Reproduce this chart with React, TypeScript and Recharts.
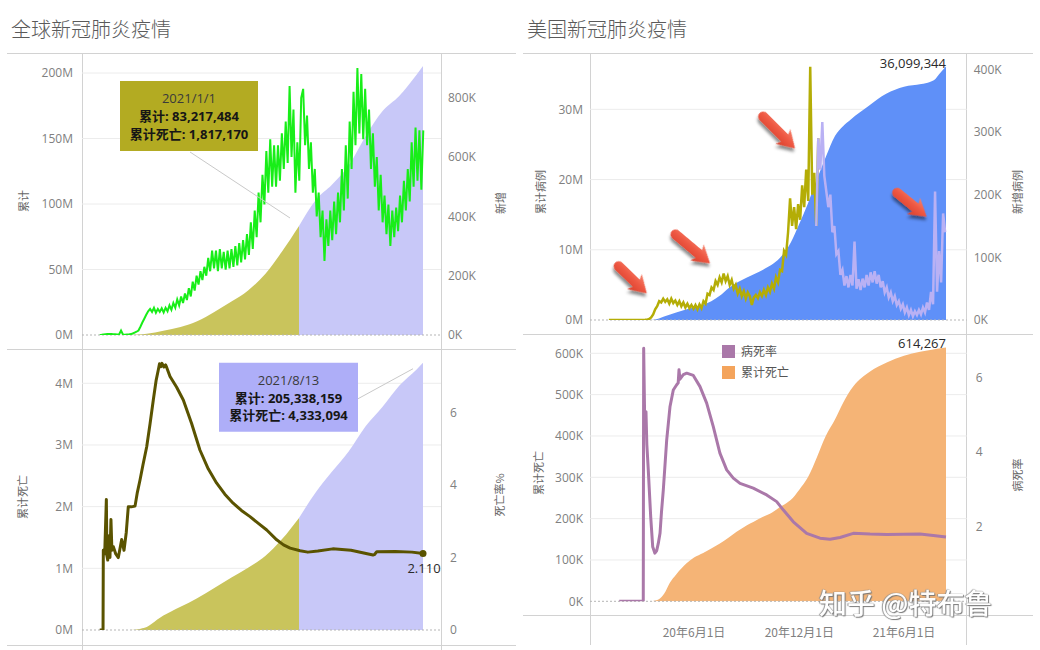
import React from 'react';
import {
  ComposedChart, Area, Line, XAxis, YAxis, CartesianGrid, ReferenceLine, ReferenceDot,
} from 'recharts';

// Days are counted from 2020/1/1 (day 0). 2021/1/1 = day 366, 2021/8/13 = day 590.
const splitDay = 366;
const endDay = 590;

// ---------------- 全球 ----------------
const globalCumDays = [6, 31, 60, 75, 91, 121, 152, 182, 213, 244, 274, 305, 335, 366, 397, 425, 456, 486, 517, 547, 578, 590];
const globalCumCasesM = [0, 0.012, 0.09, 0.3, 0.93, 3.3, 6.2, 10.5, 17.6, 25.5, 34.0, 46.5, 63.5, 83.2, 103.5, 114.5, 129.5, 151.5, 171, 182.5, 198.5, 205.3];

const globalNewFirstDay = 6;
const globalNewStepDays = 3.5;
const globalNewK = [
  0.3, 0.5, 1.5, 2.5, 3, 3.5, 3, 2.5, 2.5, 2,
  2, 15, 1.5, 1, 1.5, 2, 3, 5, 8, 11,
  15, 28, 42, 55, 68, 80, 88, 78, 92, 75,
  88, 78, 90, 76, 92, 80, 100, 85, 108, 92,
  120, 100, 130, 108, 140, 118, 158, 130, 180, 150,
  200, 170, 215, 185, 230, 200, 260, 215, 285, 225,
  285, 215, 290, 225, 280, 220, 285, 225, 290, 230,
  300, 235, 310, 245, 320, 255, 340, 270, 380, 290,
  420, 330, 480, 380, 540, 440, 620, 480, 660, 500,
  640, 500, 640, 520, 680, 560, 720, 580, 840, 600,
  760, 480, 650, 520, 800, 830, 640, 740, 560, 650,
  480, 560, 400, 480, 330, 420, 250, 390, 300, 420,
  320, 450, 340, 480, 380, 560, 420, 640, 460, 720,
  560, 820, 640, 900, 680, 880, 660, 830, 640, 760,
  560, 680, 500, 600, 420, 540, 380, 470, 340, 440,
  300, 420, 330, 430, 350, 470, 380, 520, 420, 560,
  450, 650, 500, 700, 520, 690, 490, 690,
];

const globalDeathDays = [6, 50, 70, 80, 91, 100, 110, 121, 135, 152, 182, 213, 244, 274, 305, 335, 366, 397, 425, 456, 486, 517, 547, 578, 590];
const globalDeathsM = [0, 0.002, 0.006, 0.02, 0.047, 0.1, 0.17, 0.234, 0.3, 0.375, 0.515, 0.68, 0.85, 1.01, 1.2, 1.47, 1.817, 2.24, 2.56, 2.9, 3.3, 3.62, 3.96, 4.22, 4.333];

const globalRateDays = [6, 12, 12.5, 15, 18, 19, 20.5, 23, 24.5, 26.3, 28, 30.6, 35, 39.6, 45.7, 49.9, 54, 57.6, 63, 69.8, 74, 78.8, 84, 90.9, 97, 102.8, 108, 111.8, 114, 116.5, 118.5, 122, 125, 127, 133, 145, 157, 172, 187, 202, 217, 232, 247, 262, 277.5, 292, 307.7, 325.7, 338, 350, 368, 382, 400, 427, 460, 485, 499.7, 502, 506.4, 540, 570, 590];
const globalRatePct = [0, 0, 2.2, 2.1, 3.6, 2.05, 1.93, 2.6, 2.0, 3.05, 2.2, 2.3, 2.1, 2.0, 2.5, 2.2, 2.7, 3.4, 3.4, 3.42, 3.8, 4.14, 4.55, 5.06, 5.7, 6.35, 6.9, 7.18, 7.35, 7.27, 7.36, 7.26, 7.32, 7.25, 7.0, 6.7, 6.35, 5.7, 4.97, 4.45, 4.06, 3.75, 3.5, 3.3, 3.13, 2.95, 2.76, 2.49, 2.35, 2.26, 2.19, 2.15, 2.18, 2.24, 2.2, 2.12, 2.07, 2.08, 2.16, 2.17, 2.15, 2.11];

const globalCalloutDays = [366, 590];
const globalCalloutDates = ['2021/1/1', '2021/8/13'];
const globalCalloutCases = [83217484, 205338159];
const globalCalloutDeaths = [1817170, 4333094];
const globalEndRateLabel = '2.110';

// ---------------- 美国 ----------------
const usCumDays = [4, 60, 74, 81, 88, 91, 100, 121, 152, 182, 196, 213, 244, 274, 305, 320, 335, 350, 366, 381, 397, 411, 425, 456, 486, 517, 547, 562, 570, 578, 590];
const usCumCasesM = [0, 0.0001, 0.004, 0.03, 0.14, 0.21, 0.5, 1.08, 1.8, 2.68, 3.4, 4.6, 6.05, 7.25, 9.2, 11.0, 13.7, 16.6, 20.1, 23.2, 26.2, 27.6, 28.6, 30.5, 32.2, 33.2, 33.6, 33.9, 34.2, 35.0, 36.099344];

const usNewFirstDay = 4;
const usNewStepDays = 3.5;
const usNewK = [
  0, 0, 0, 0, 0, 0, 0, 0, 0, 0,
  0, 0, 0, 0, 0, 0, 0, 0.1, 0.3, 0.6,
  1.5, 4, 9, 17, 22, 30, 28, 34, 29, 33,
  26, 34, 27, 31, 24, 30, 22, 28, 20, 26,
  19, 24, 18, 24, 17, 25, 19, 30, 26, 42,
  40, 52, 48, 62, 56, 68, 60, 74, 62, 70,
  56, 64, 50, 56, 42, 50, 38, 46, 34, 44,
  38, 24, 36, 40, 35, 44, 38, 48, 40, 52,
  45, 58, 50, 68, 60, 80, 78, 110, 104, 140,
  194, 150, 180, 145, 185, 160, 215, 180, 240, 190,
  404, 200, 235, 150, 290, 240, 316, 230, 205, 180,
  200, 140, 150, 105, 110, 72, 80, 55, 70, 52,
  72, 55, 125, 50, 65, 48, 66, 52, 72, 55,
  76, 60, 78, 58, 72, 52, 62, 44, 52, 36,
  44, 30, 38, 24, 30, 18, 25, 12, 20, 8,
  16, 6, 14, 8, 16, 9, 20, 12, 28, 16,
  45, 25, 205, 45, 110, 60, 170, 140,
];

const usDeathDays = [4, 60, 75, 85, 91, 100, 110, 121, 139, 152, 168, 182, 197, 213, 226, 244, 255, 274, 284, 305, 313, 320, 335, 350, 366, 381, 397, 411, 429, 458, 487, 517, 545, 570, 590];
const usDeathsK = [0, 0, 0.1, 2, 5, 18, 45, 65, 92, 106, 117, 128, 140, 155, 168, 184, 192, 206, 212, 231, 238, 245, 270, 300, 350, 400, 440, 480, 520, 556, 578, 594, 604, 610, 614.267];

const usRateDays = [22, 63.8, 64.5, 66.5, 68.5, 70, 72.5, 76.7, 80.2, 84, 87, 89.9, 92.9, 95.5, 98.6, 104.5, 110.3, 116, 121.9, 124.5, 125.9, 127.6, 133.4, 139.3, 150.8, 162.4, 174, 185.5, 197, 208.8, 220.3, 232, 255, 278.3, 295.7, 307, 324.6, 347.8, 371, 388.4, 405.8, 428.9, 458, 487, 544.8, 568, 590];
const usRatePct = [0, 0, 6.78, 4.6, 5.08, 4.2, 3.52, 2.27, 1.46, 1.29, 1.35, 1.55, 1.82, 2.4, 2.98, 4.32, 5.22, 5.66, 5.8, 5.85, 6.2, 5.95, 6.07, 6.11, 6.05, 5.75, 5.31, 4.68, 3.97, 3.52, 3.3, 3.16, 3.03, 2.85, 2.67, 2.45, 2.13, 1.82, 1.69, 1.66, 1.71, 1.82, 1.8, 1.79, 1.8, 1.76, 1.72];

const usEndCasesLabel = '36,099,344';
const usEndDeathsLabel = '614,267';

const usTickDays = [152, 335, 517];
const usTickLabels = ['20年6月1日', '20年12月1日', '21年6月1日'];

const usLegendNames = ['病死率', '累计死亡'];

// arrows (annotation targets, in day / 新增病例 K)
const usArrowDays = [69.8, 179.8, 327.5, 556.5];
const usArrowK = [42.6, 90.4, 273.8, 164.8];

// ---------------- styles ----------------
const FONT = "'Open Sans', 'Noto Sans CJK SC', sans-serif";
const CJK = "'Noto Sans CJK SC', 'Noto Sans', sans-serif";
const COL = {
  grid: '#ececec',
  zero: '#b5b5b5',
  border: '#d2d2d2',
  tick: '#808080',
  title: '#5a5a5a',
  axisTitle: '#666666',
  olive: '#c9c45c',
  lavender: '#c8c8f8',
  green: '#18ee18',
  darkOlive: '#5a5300',
  oliveBox: '#b3ab22',
  lavBox: '#aeaef8',
  usBlue: '#5f90f8',
  usOlive: '#b4ad06',
  usLav: '#b9b1f4',
  usOrange: '#f5b476',
  usOrangeLegend: '#f4a45c',
  usPurple: '#aa78a9',
  arrow: '#ee5843',
};
const arrowAngles = [44, 40, 45, 39];
const arrowLens = [44, 50, 50, 43];

const globalXDomain = [-26, 622.5];
const usXDomain = [-28.8, 626];

const tickStyle = { fill: COL.tick, fontSize: 12, fontFamily: FONT };

// ---------------- helpers ----------------
const rows = (days: number[], vals: number[]) => days.map((d, i) => ({ d, v: vals[i] }));
const stepRows = (first: number, step: number, vals: number[]) => vals.map((v, i) => ({ d: first + step * i, v }));
const before = (r: { d: number; v: number }[], day: number) => r.filter((p) => p.d <= day);
const after = (r: { d: number; v: number }[], day: number) => r.filter((p) => p.d >= day);

const gCum = rows(globalCumDays, globalCumCasesM);
const gNew = stepRows(globalNewFirstDay, globalNewStepDays, globalNewK);
const gDeath = rows(globalDeathDays, globalDeathsM);
const gRate = rows(globalRateDays, globalRatePct);
const uCum = rows(usCumDays, usCumCasesM);
const uNew = stepRows(usNewFirstDay, usNewStepDays, usNewK);
const uDeath = rows(usDeathDays, usDeathsK);
const uRate = rows(usRateDays, usRatePct);

const fmt = (n: number) => n.toLocaleString('en-US');

function makeCallout(lines: string[], fill: string, boxDx: number, boxDy: number, w: number, h: number, from: number[], to: number[]) {
  return (p: any) => {
    const { cx, cy } = p;
    const bx = cx + boxDx;
    const by = cy + boxDy;
    return (
      <g>
        <line x1={cx + from[0]} y1={cy + from[1]} x2={cx + to[0]} y2={cy + to[1]} stroke="#c9c9c9" strokeWidth={1} />
        <rect x={bx} y={by} width={w} height={h} fill={fill} />
        {lines.map((t, i) => (
          <text key={i} x={bx + w / 2} y={by + 17.5 + i * 17.6} dominantBaseline="central" textAnchor="middle"
            fontSize={13} fontWeight={i === 0 ? 400 : 700} fill={i === 0 ? '#3a3a3a' : '#161616'} fontFamily={FONT}>{t}</text>
        ))}
      </g>
    );
  };
}

const endLabel = (text: string, dy: number) => (p: any) => (
  <text x={p.cx} y={p.cy + dy} textAnchor="end" fontSize={13} fill="#2a2a2a" fontFamily={FONT}>{text}</text>
);

const endDotLabel = (text: string, color: string) => (p: any) => (
  <g>
    <circle cx={p.cx} cy={p.cy} r={3.5} fill={color} />
    <text x={p.cx + 1} y={p.cy + 14} textAnchor="middle" dominantBaseline="central" fontSize={13} fill="#2a2a2a" fontFamily={FONT}>{text}</text>
  </g>
);

const arrowShape = (angle: number, len: number, id: string) => (p: any) => {
  const { cx, cy } = p;
  const b = len - 5;
  const d = `M0,0 L-17,-10.5 L-14.5,-5 L${-b},-5 A5,5 0 0 0 ${-b},5 L-14.5,5 L-17,10.5 Z`;
  return (
    <g>
      <defs>
        <filter id={`sh${id}`} x="-50%" y="-50%" width="200%" height="200%">
          <feDropShadow dx="2" dy="3" stdDeviation="1.6" floodColor="#000" floodOpacity="0.45" />
        </filter>
        <linearGradient id={`gr${id}`} x1="0" y1="0" x2="0" y2="1">
          <stop offset="0" stopColor="#f7826b" />
          <stop offset="0.45" stopColor={COL.arrow} />
          <stop offset="1" stopColor="#d9402c" />
        </linearGradient>
      </defs>
      <g transform={`translate(${cx},${cy}) rotate(${angle})`}>
        <path d={d} fill={`url(#gr${id})`} filter={`url(#sh${id})`} />
      </g>
    </g>
  );
};

const yCommon = {
  axisLine: false,
  tickLine: false,
  tickSize: 0,
  allowDataOverflow: true,
  width: 60,
  interval: 0 as const,
  tick: tickStyle,
};

// ---------------- charts ----------------
function GlobalTop() {
  return (
    <ComposedChart width={520} height={296} margin={{ top: 0, right: 19, bottom: 14, left: 22 }}>
      <CartesianGrid yAxisId="l" vertical={false} stroke={COL.grid} horizontalValues={[50, 100, 150, 200]} />
      <XAxis type="number" dataKey="d" domain={globalXDomain} hide allowDataOverflow />
      <YAxis yAxisId="l" orientation="left" domain={[0, 215.27]} ticks={[0, 50, 100, 150, 200]}
        tickFormatter={(v: number) => `${v}M`} tickMargin={9} {...yCommon} />
      <YAxis yAxisId="r" orientation="right" domain={[0, 951]} ticks={[0, 200, 400, 600, 800]}
        tickFormatter={(v: number) => `${v}K`} tickMargin={7} {...yCommon} />
      <ReferenceLine yAxisId="l" y={0} stroke={COL.zero} strokeDasharray="2 2" ifOverflow="visible" />
      <Area yAxisId="l" data={before(gCum, splitDay)} dataKey="v" type="monotone" stroke="none" fill={COL.olive} fillOpacity={1} isAnimationActive={false} />
      <Area yAxisId="l" data={after(gCum, splitDay)} dataKey="v" type="monotone" stroke="none" fill={COL.lavender} fillOpacity={1} isAnimationActive={false} />
      <Line yAxisId="r" data={gNew} dataKey="v" type="linear" stroke={COL.green} strokeWidth={2} dot={false} activeDot={false} isAnimationActive={false} />
      <ReferenceDot yAxisId="l" x={globalCalloutDays[0]} y={globalCalloutCases[0] / 1e6} r={0} ifOverflow="visible"
        shape={makeCallout([globalCalloutDates[0], `累计: ${fmt(globalCalloutCases[0])}`, `累计死亡: ${fmt(globalCalloutDeaths[0])}`],
          COL.oliveBox, -179, -145, 138, 70, [-109, -74], [-9, -8])} />
    </ComposedChart>
  );
}

function GlobalBottom() {
  return (
    <ComposedChart width={520} height={296} margin={{ top: 0, right: 19, bottom: 15, left: 22 }}>
      <CartesianGrid yAxisId="l" vertical={false} stroke={COL.grid} horizontalValues={[1, 2, 3, 4]} />
      <XAxis type="number" dataKey="d" domain={globalXDomain} hide allowDataOverflow />
      <YAxis yAxisId="l" orientation="left" domain={[0, 4.556]} ticks={[0, 1, 2, 3, 4]}
        tickFormatter={(v: number) => `${v}M`} tickMargin={9} {...yCommon} />
      <YAxis yAxisId="r" orientation="right" domain={[0, 7.758]} ticks={[0, 2, 4, 6]}
        tickFormatter={(v: number) => `${v}`} tickMargin={9} {...yCommon} />
      <ReferenceLine yAxisId="l" y={0} stroke={COL.zero} strokeDasharray="2 2" ifOverflow="visible" />
      <Area yAxisId="l" data={before(gDeath, splitDay)} dataKey="v" type="monotone" stroke="none" fill={COL.olive} fillOpacity={1} isAnimationActive={false} />
      <Area yAxisId="l" data={after(gDeath, splitDay)} dataKey="v" type="monotone" stroke="none" fill={COL.lavender} fillOpacity={1} isAnimationActive={false} />
      <Line yAxisId="r" data={gRate} dataKey="v" type="linear" stroke={COL.darkOlive} strokeWidth={3} dot={false} activeDot={false} isAnimationActive={false} strokeLinejoin="round" />
      <ReferenceDot yAxisId="l" x={globalCalloutDays[1]} y={globalCalloutDeaths[1] / 1e6} r={0} ifOverflow="visible"
        shape={makeCallout([globalCalloutDates[1], `累计: ${fmt(globalCalloutCases[1])}`, `累计死亡: ${fmt(globalCalloutDeaths[1])}`],
          COL.lavBox, -204, 0, 139, 69, [-65, 36], [-10, 6])} />
      <ReferenceDot yAxisId="r" x={endDay} y={globalRatePct[globalRatePct.length - 1]} r={0} ifOverflow="visible"
        shape={endDotLabel(globalEndRateLabel, COL.darkOlive)} />
    </ComposedChart>
  );
}

function UsTop() {
  return (
    <ComposedChart width={520} height={281} margin={{ top: 0, right: 13.3, bottom: 14, left: 10 }}>
      <CartesianGrid yAxisId="l" vertical={false} stroke={COL.grid} horizontalValues={[10, 20, 30]} />
      <XAxis type="number" dataKey="d" domain={usXDomain} hide allowDataOverflow />
      <YAxis yAxisId="l" orientation="left" domain={[0, 38.02]} ticks={[0, 10, 20, 30]}
        tickFormatter={(v: number) => `${v}M`} tickMargin={7} {...yCommon} />
      <YAxis yAxisId="r" orientation="right" domain={[0, 426]} ticks={[0, 100, 200, 300, 400]}
        tickFormatter={(v: number) => `${v}K`} tickMargin={7} {...yCommon} />
      <ReferenceLine yAxisId="l" y={0} stroke={COL.zero} strokeDasharray="2 2" ifOverflow="visible" />
      <Area yAxisId="l" data={uCum} dataKey="v" type="monotone" stroke="none" fill={COL.usBlue} fillOpacity={1} isAnimationActive={false} />
      <Line yAxisId="r" data={before(uNew, splitDay + 2)} dataKey="v" type="linear" stroke={COL.usOlive} strokeWidth={2.5} dot={false} activeDot={false} isAnimationActive={false} />
      <Line yAxisId="r" data={after(uNew, splitDay - 2)} dataKey="v" type="linear" stroke={COL.usLav} strokeWidth={2.5} dot={false} activeDot={false} isAnimationActive={false} />
      <ReferenceDot yAxisId="l" x={endDay} y={usCumCasesM[usCumCasesM.length - 1]} r={0} ifOverflow="visible"
        shape={endLabel(usEndCasesLabel, 2)} />
      {usArrowDays.map((d, i) => (
        <ReferenceDot key={i} yAxisId="r" x={d} y={usArrowK[i]} r={0} ifOverflow="visible"
          shape={arrowShape(arrowAngles[i], arrowLens[i], `a${i}`)} />
      ))}
    </ComposedChart>
  );
}

function UsBottom() {
  return (
    <ComposedChart width={520} height={311} margin={{ top: 0, right: 13.3, bottom: 13.7, left: 10 }}>
      <CartesianGrid yAxisId="l" vertical={false} stroke={COL.grid} horizontalValues={[100, 200, 300, 400, 500, 600]} />
      <XAxis type="number" dataKey="d" domain={usXDomain} allowDataOverflow height={30}
        ticks={usTickDays} interval={0} axisLine={false} tickLine={false} tickSize={0} tickMargin={27}
        tick={{ fill: COL.tick, fontSize: 12, fontFamily: CJK }}
        tickFormatter={(v: number) => usTickLabels[usTickDays.indexOf(v)] ?? ''} />
      <YAxis yAxisId="l" orientation="left" domain={[0, 646.7]} ticks={[0, 100, 200, 300, 400, 500, 600]}
        tickFormatter={(v: number) => `${v}K`} tickMargin={7} {...yCommon} />
      <YAxis yAxisId="r" orientation="right" domain={[0, 7.16]} ticks={[0, 2, 4, 6]}
        tickFormatter={(v: number) => (v === 0 ? '' : `${v}`)} tickMargin={9} {...yCommon} />
      <ReferenceLine yAxisId="l" y={0} stroke={COL.zero} strokeDasharray="2 2" ifOverflow="visible" />
      <Area yAxisId="l" data={uDeath} dataKey="v" type="monotone" stroke="none" fill={COL.usOrange} fillOpacity={1} isAnimationActive={false} />
      <Line yAxisId="r" data={uRate} dataKey="v" type="linear" stroke={COL.usPurple} strokeWidth={3} dot={false} activeDot={false} isAnimationActive={false} strokeLinejoin="round" />
      <ReferenceDot yAxisId="l" x={endDay} y={usDeathsK[usDeathsK.length - 1]} r={0} ifOverflow="visible"
        shape={endLabel(usEndDeathsLabel, 1)} />
    </ComposedChart>
  );
}

// ---------------- layout pieces ----------------
function HLine({ x1, x2, y }: { x1: number; x2: number; y: number }) {
  return <div style={{ position: 'absolute', left: x1, top: y, width: x2 - x1, height: 1, background: COL.border }} />;
}
function VLine({ x, y1, y2 }: { x: number; y1: number; y2: number }) {
  return <div style={{ position: 'absolute', left: x, top: y1, width: 1, height: y2 - y1, background: COL.border }} />;
}
function AxisTitle({ x, y, text }: { x: number; y: number; text: string }) {
  return (
    <div style={{
      position: 'absolute', left: x, top: y, transform: 'translate(-50%, -50%) rotate(-90deg)',
      fontSize: 11, lineHeight: '12px', color: COL.axisTitle, fontFamily: CJK, whiteSpace: 'nowrap',
    }}>{text}</div>
  );
}
function Title({ x, text }: { x: number; text: string }) {
  return (
    <div style={{
      position: 'absolute', left: x, top: 16, fontSize: 20, lineHeight: '26px', color: COL.title,
      fontFamily: CJK, fontWeight: 300, whiteSpace: 'nowrap',
    }}>{text}</div>
  );
}

const legendColors = [COL.usPurple, COL.usOrangeLegend];

export default function App() {
  return (
    <div style={{ position: 'absolute', left: 0, top: 0, width: 1040, height: 650, background: '#fff', overflow: 'hidden', fontFamily: FONT }}>
      <Title x={11} text="全球新冠肺炎疫情" />
      <Title x={527} text="美国新冠肺炎疫情" />

      {/* frame lines */}
      <HLine x1={7} x2={516} y={53} />
      <HLine x1={7} x2={516} y={349} />
      <HLine x1={7} x2={516} y={645} />
      <VLine x={82} y1={53} y2={650} />
      <VLine x={441} y1={53} y2={650} />
      <HLine x1={523} x2={1033} y={53} />
      <HLine x1={523} x2={1033} y={334} />
      <HLine x1={523} x2={1033} y={615} />
      <VLine x={590} y1={53} y2={645} />
      <VLine x={966} y1={53} y2={645} />

      <div style={{ position: 'absolute', left: 0, top: 53 }}><GlobalTop /></div>
      <div style={{ position: 'absolute', left: 0, top: 349 }}><GlobalBottom /></div>
      <div style={{ position: 'absolute', left: 520, top: 53 }}><UsTop /></div>
      <div style={{ position: 'absolute', left: 520, top: 334 }}><UsBottom /></div>

      <AxisTitle x={23} y={201} text="累计" />
      <AxisTitle x={500} y={203} text="新增" />
      <AxisTitle x={22} y={497} text="累计死亡" />
      <AxisTitle x={499} y={495} text="死亡率%" />
      <AxisTitle x={540} y={192} text="累计病例" />
      <AxisTitle x={1017} y={192} text="新增病例" />
      <AxisTitle x={538} y={473} text="累计死亡" />
      <AxisTitle x={1017} y={475} text="病死率" />

      {/* legend */}
      <div style={{ position: 'absolute', left: 722, top: 344 }}>
        {usLegendNames.map((n, i) => (
          <div key={n} style={{ display: 'flex', alignItems: 'center', height: 14, marginBottom: 7 }}>
            <div style={{ width: 13, height: 13, background: legendColors[i] }} />
            <div style={{ marginLeft: 6, fontSize: 12, lineHeight: '14px', color: '#555', fontFamily: CJK }}>{n}</div>
          </div>
        ))}
      </div>

      {/* watermark */}
      <div style={{
        position: 'absolute', left: 819, top: 588, fontSize: 28, lineHeight: '28px', height: 28, color: '#ffffff',
        fontFamily: CJK, fontWeight: 500, whiteSpace: 'nowrap', opacity: 0.95,
        textShadow: '0 0 1px #666, 1px 1px 1px #777, -1px 0 1px #999',
      }}>知乎 @特布鲁</div>
    </div>
  );
}
